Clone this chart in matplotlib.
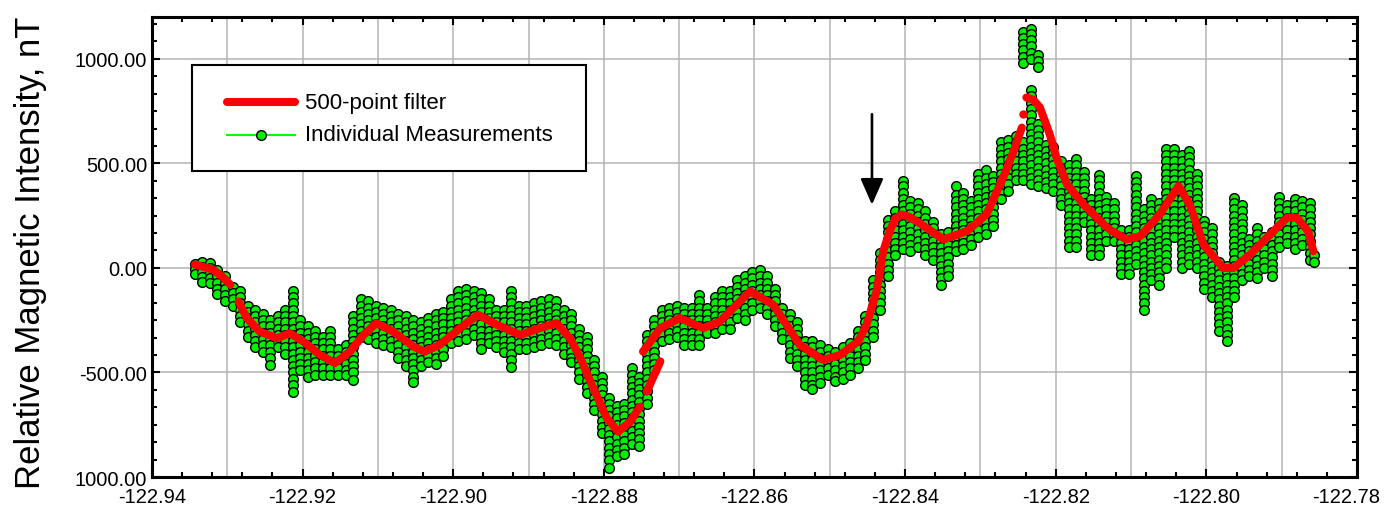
import numpy as np
import matplotlib
matplotlib.use("Agg")
import matplotlib.pyplot as plt
from matplotlib.lines import Line2D
from matplotlib.ticker import MultipleLocator
from matplotlib.transforms import ScaledTranslation

plt.rcParams['font.family'] = ['Liberation Sans', 'DejaVu Sans']

# ---- 500-point filtered trace (the filter restarts a few times, so it comes in pieces)
filt_lon_1 = [-122.9343, -122.9331, -122.9319, -122.9307, -122.9296]
filt_val_1 = [16, 4, -8, -40, -80]

filt_lon_2 = [-122.9285, -122.9274, -122.9257, -122.9234, -122.9217, -122.9199, -122.9177,
              -122.9157, -122.9137, -122.9119, -122.9102, -122.9080, -122.9053, -122.9038,
              -122.9018, -122.8991, -122.8967, -122.8942, -122.8911, -122.8885, -122.8863,
              -122.8845, -122.8832, -122.8814, -122.8796, -122.8781, -122.8765, -122.8752]
filt_val_2 = [-160, -240, -304, -336, -312, -352, -416,
              -455, -400, -320, -264, -304, -376, -400,
              -368, -288, -224, -272, -320, -288, -264,
              -336, -425, -575, -719, -783, -735, -663]

filt_lon_3 = [-122.8743, -122.8725]
filt_val_3 = [-591, -447]

filt_lon_4 = [-122.8748, -122.8725, -122.8699, -122.8668, -122.8646, -122.8606, -122.8575,
              -122.8540, -122.8509, -122.8486, -122.8462, -122.8451, -122.8438, -122.8429,
              -122.8420, -122.8413, -122.8405, -122.8395, -122.8385, -122.8349, -122.8318,
              -122.8292, -122.8270, -122.8256, -122.8245]
filt_val_4 = [-400, -288, -240, -288, -256, -112, -176,
              -368, -440, -416, -350, -270, -112, 80,
              180, 235, 256, 245, 224, 136, 176,
              256, 431, 559, 671]

filt_dot_lon = [-122.8243]
filt_dot_val = [735]

filt_lon_5 = [-122.8239, -122.8230, -122.8221, -122.8208, -122.8199, -122.8185, -122.8163,
              -122.8141, -122.8128, -122.8106, -122.8088, -122.8062, -122.8037, -122.8022,
              -122.8004, -122.7978, -122.7964, -122.7942, -122.7902, -122.7893, -122.7880,
              -122.7865, -122.7858]
filt_val_5 = [815, 805, 767, 639, 527, 399, 303,
              224, 182, 136, 152, 256, 392, 303,
              112, 0, 0, 64, 208, 240, 240,
              176, 80]

# ---- individual readings, grouped by longitude
meas_lon = [
    -122.9343, -122.9333, -122.9323, -122.9313, -122.9303, -122.9293, -122.9283, -122.9273, -122.9263, -122.9253,
    -122.9243, -122.9233, -122.9223, -122.9213, -122.9203, -122.9193, -122.9183, -122.9173, -122.9163, -122.9153,
    -122.9143, -122.9133, -122.9123, -122.9113, -122.9103, -122.9093, -122.9083, -122.9073, -122.9063, -122.9053,
    -122.9043, -122.9033, -122.9023, -122.9013, -122.9003, -122.8993, -122.8983, -122.8973, -122.8963, -122.8953,
    -122.8943, -122.8933, -122.8923, -122.8913, -122.8903, -122.8893, -122.8883, -122.8873, -122.8863, -122.8853,
    -122.8843, -122.8833, -122.8823, -122.8813, -122.8803, -122.8793, -122.8783, -122.8773, -122.8763, -122.8753,
    -122.8743, -122.8733, -122.8723, -122.8713, -122.8703, -122.8693, -122.8683, -122.8673, -122.8663, -122.8653,
    -122.8643, -122.8633, -122.8623, -122.8613, -122.8603, -122.8593, -122.8583, -122.8573, -122.8563, -122.8553,
    -122.8543, -122.8533, -122.8523, -122.8513, -122.8503, -122.8493, -122.8483, -122.8473, -122.8463, -122.8453,
    -122.8443, -122.8433, -122.8423, -122.8413, -122.8403, -122.8393, -122.8383, -122.8373, -122.8363, -122.8353,
    -122.8343, -122.8333, -122.8323, -122.8313, -122.8303, -122.8293, -122.8283, -122.8273, -122.8263, -122.8253,
    -122.8243, -122.8233, -122.8223, -122.8213, -122.8203, -122.8193, -122.8183, -122.8173, -122.8163, -122.8153,
    -122.8143, -122.8133, -122.8123, -122.8113, -122.8103, -122.8093, -122.8083, -122.8073, -122.8063, -122.8053,
    -122.8043, -122.8033, -122.8023, -122.8013, -122.8003, -122.7993, -122.7983, -122.7973, -122.7963, -122.7953,
    -122.7943, -122.7933, -122.7923, -122.7913, -122.7903, -122.7893, -122.7883, -122.7873, -122.7863, -122.7857,
]
meas_val = [
    [20, -5, -30],
    [30, 5, -20, -45, -65],
    [25, 0, -25, -50, -70],
    [-10, -40, -70, -100, -125],
    [-40, -70, -100, -130, -160],
    [-90, -120, -150, -180],
    [-110, -140, -170, -200, -230, -260],
    [-180, -210, -240, -270, -300, -330],
    [-200, -230, -260, -290, -320, -350, -380],
    [-220, -250, -280, -310, -340, -370, -400],
    [-250, -280, -310, -340, -370, -400, -430, -465],
    [-230, -260, -290, -320, -350, -380],
    [-200, -230, -260, -290, -320, -350, -380, -410],
    [-110, -140, -170, -200, -230, -260, -290, -320, -350, -380, -410, -440, -470, -500, -530, -560, -595],
    [-250, -280, -310, -340, -370, -400, -430, -460, -490],
    [-280, -310, -340, -370, -400, -430, -460, -490, -520],
    [-300, -330, -360, -390, -420, -450, -480, -510],
    [-330, -360, -390, -420, -450, -480, -510],
    [-300, -330, -360, -390, -420, -450, -480, -510],
    [-390, -420, -450, -480, -510],
    [-370, -400, -430, -460, -490, -510],
    [-230, -260, -290, -320, -350, -380, -410, -440, -470, -500, -535],
    [-150, -180, -210, -240, -270, -300, -330],
    [-160, -190, -220, -250, -280, -310, -340],
    [-180, -210, -240, -270, -300, -330, -360],
    [-190, -220, -250, -280, -310, -340, -370],
    [-200, -230, -260, -290, -320, -350, -380],
    [-220, -250, -280, -310, -340, -370, -400, -430],
    [-230, -260, -290, -320, -350, -380, -410, -440, -470],
    [-250, -280, -310, -340, -370, -400, -430, -460, -490, -520, -545],
    [-260, -290, -320, -350, -380, -410, -440, -470],
    [-240, -270, -300, -330, -360, -390, -420, -450],
    [-220, -250, -280, -310, -340, -370, -400, -430, -460],
    [-210, -240, -270, -300, -330, -360, -390, -420],
    [-150, -180, -210, -240, -270, -300, -330, -360],
    [-110, -140, -170, -200, -230, -260, -290, -320, -350],
    [-100, -130, -160, -190, -220, -250, -280, -310, -340],
    [-110, -140, -170, -200, -230, -260, -290, -320],
    [-120, -150, -180, -210, -240, -270, -300, -330, -360, -390],
    [-150, -180, -210, -240, -270, -300, -330, -360],
    [-200, -230, -260, -290, -320, -350, -380],
    [-200, -230, -260, -290, -320, -350, -380, -400],
    [-110, -140, -170, -200, -230, -260, -290, -320, -350, -380, -410, -440, -475],
    [-180, -210, -240, -270, -300, -330, -360, -390],
    [-180, -210, -240, -270, -300, -330, -360, -390],
    [-170, -200, -230, -260, -290, -320, -350, -380],
    [-160, -190, -220, -250, -280, -310, -340, -370],
    [-150, -180, -210, -240, -270, -300, -330, -360],
    [-160, -190, -220, -250, -280, -310, -340, -370],
    [-200, -230, -260, -290, -320, -350, -380, -410],
    [-220, -250, -280, -310, -340, -370, -400, -430, -450],
    [-290, -320, -350, -380, -410, -440, -470, -500, -530],
    [-330, -360, -390, -420, -450, -480, -510, -540, -570, -600],
    [-440, -470, -500, -530, -560, -590, -620, -650, -680],
    [-520, -550, -580, -610, -640, -670, -700, -730, -760, -790],
    [-620, -650, -680, -710, -740, -770, -800, -830, -860, -890, -920, -955],
    [-660, -690, -720, -750, -780, -810, -840, -870, -900],
    [-650, -680, -710, -740, -770, -800, -830, -860, -890],
    [-480, -510, -540, -570, -600, -630, -660, -690, -720, -750, -780, -810, -840],
    [-520, -550, -580, -610, -640, -670, -700, -730, -760, -790, -820, -850],
    [-320, -350, -380, -410, -440, -470, -500, -530, -560, -590, -620, -650],
    [-250, -280, -310, -340, -370, -400, -430, -460, -490],
    [-200, -230, -260, -290, -320, -350],
    [-190, -220, -250, -280, -310, -340],
    [-180, -210, -240, -270, -300, -330],
    [-190, -220, -250, -280, -310, -340, -370],
    [-190, -220, -250, -280, -310, -340, -370],
    [-130, -160, -190, -220, -250, -280, -310, -340, -370],
    [-190, -220, -250, -280, -310],
    [-140, -170, -200, -230, -260, -290, -310],
    [-110, -140, -170, -200, -230, -260, -290],
    [-110, -140, -170, -200, -230, -260, -290],
    [-60, -90, -120, -150, -180, -210, -240],
    [-40, -70, -100, -130, -160, -190, -220, -250],
    [-20, -50, -80, -110, -140, -170, -200],
    [-10, -40, -70, -100, -130, -160, -190],
    [-40, -70, -100, -130, -160, -190, -220],
    [-100, -130, -160, -190, -220, -250, -280],
    [-190, -220, -250, -280, -310, -340],
    [-220, -250, -280, -310, -340, -370, -400, -430],
    [-260, -290, -320, -350, -380, -410, -440, -470],
    [-350, -380, -410, -440, -470, -500, -530, -560],
    [-350, -380, -410, -440, -470, -500, -530, -560, -580],
    [-370, -400, -430, -460, -490, -520, -550],
    [-390, -420, -450, -480, -510],
    [-400, -430, -460, -490, -520, -540],
    [-380, -410, -440, -470, -500, -530],
    [-360, -390, -420, -450, -480, -510],
    [-300, -330, -360, -390, -420, -450, -480],
    [-230, -260, -290, -320, -350, -380, -410, -440],
    [-60, -90, -120, -150, -180, -210, -240, -270, -300, -330],
    [70, 40, 10, -20, -50, -80, -110, -140, -170, -200],
    [230, 200, 170, 140, 110, 80, 50, 20, -10, -40],
    [270, 240, 210, 180, 150, 120, 90, 60],
    [415, 390, 360, 330, 300, 270, 240, 210, 180, 150, 120, 90],
    [320, 290, 260, 230, 200, 170, 140, 110, 80],
    [310, 280, 250, 220, 190, 160, 130, 100],
    [270, 240, 210, 180, 150, 120, 90, 60],
    [220, 190, 160, 130, 100, 70, 40],
    [160, 130, 100, 70, 40, 10, -20, -50, -80],
    [170, 140, 110, 80, 50, 20, -10, -40],
    [390, 350, 320, 290, 260, 230, 200, 170, 140, 110, 80],
    [360, 330, 300, 270, 240, 210, 180, 150, 120, 90],
    [320, 290, 260, 230, 200, 170, 140, 110],
    [450, 420, 390, 360, 330, 300, 270, 240, 210, 180, 150],
    [470, 430, 400, 370, 340, 310, 280, 250, 220, 190, 160],
    [440, 410, 380, 350, 320, 290, 260, 230, 200],
    [600, 570, 540, 510, 480, 450, 420, 390, 360, 330],
    [610, 580, 550, 520, 490, 460, 430, 400, 370],
    [630, 600, 570, 540, 510, 480, 450, 420],
    [1130, 1100, 1070, 1040, 1010, 980, 600, 570, 540, 510, 480, 450, 420],
    [1145, 1120, 1090, 1060, 1030, 1000, 850, 820, 790, 760, 730, 700, 670, 640, 610, 580, 550, 520, 490, 460, 430, 400],
    [1020, 990, 960, 690, 660, 630, 600, 570, 540, 510, 480, 450, 420, 390],
    [590, 560, 530, 500, 470, 440, 410, 380],
    [580, 550, 520, 490, 460, 430, 400, 370],
    [510, 480, 450, 420, 390, 360, 330, 300],
    [490, 460, 430, 400, 370, 340, 310, 280, 250, 220, 190, 160, 130, 100],
    [520, 490, 460, 430, 400, 370, 340, 310, 280, 250, 220, 190, 160, 130, 100],
    [460, 430, 400, 370, 340, 310, 280, 250, 220],
    [330, 300, 270, 240, 210, 180, 150, 120, 90, 60],
    [445, 420, 390, 360, 330, 300, 270, 240, 210, 180, 150, 120, 90, 60],
    [340, 310, 280, 250, 220, 190, 160, 130],
    [310, 280, 250, 220, 190, 160, 130],
    [180, 150, 120, 90, 60, 30, 0, -30],
    [180, 150, 120, 90, 60, 30, 0, -30],
    [440, 410, 380, 350, 320, 290, 260, 230, 200, 170, 140, 110, 80, 50, 20],
    [280, 250, 220, 190, 160, 130, 100, 70, 40, 10, -20, -50, -80, -110, -140, -170, -200],
    [330, 300, 270, 240, 210, 180, 150, 120, 90, 60, 30, 0, -30, -60],
    [310, 280, 250, 220, 190, 160, 130, 100, 70, 40, 10, -20, -50, -80],
    [570, 540, 510, 480, 450, 420, 390, 360, 330, 300, 270, 240, 210, 180, 150, 120, 90, 60, 30, 0],
    [570, 540, 510, 480, 450, 420, 390, 360, 330, 300, 270, 240, 210, 180, 150],
    [540, 510, 480, 450, 420, 390, 360, 330, 300, 270, 240, 210, 180, 150, 120, 90, 60, 30, 0],
    [560, 530, 500, 470, 440, 410, 380, 350, 320, 290, 260, 230, 200, 170, 140, 110, 80, 50, 20],
    [450, 420, 390, 360, 330, 300, 270, 240, 210, 180, 150, 120, 90, 60, 30, 0],
    [225, 200, 170, 140, 110, 80, 50, 20, -10, -40, -70, -100],
    [190, 160, 130, 100, 70, 40, 10, -20, -50, -80, -110, -140],
    [30, 0, -30, -60, -90, -120, -150, -180, -210, -240, -270, -300],
    [10, -20, -50, -80, -110, -140, -170, -200, -230, -260, -290, -320, -350],
    [335, 310, 280, 250, 220, 190, 160, 130, 100, 70, 40, 10, -20, -50, -80, -110, -140],
    [300, 270, 240, 210, 180, 150, 120, 90, 60, 30, 0, -30, -60],
    [140, 110, 80, 50, 20, -10, -40],
    [190, 160, 130, 100, 70, 40, 10, -20, -50],
    [150, 120, 90, 60, 30, 0],
    [170, 140, 110, 80, 50, 20, -10, -40],
    [340, 310, 280, 250, 220, 190, 160, 130, 100],
    [300, 270, 240, 210, 180, 150, 120],
    [330, 300, 270, 240, 210, 180, 150, 120, 90],
    [320, 290, 260, 230, 200, 170, 140, 110],
    [310, 280, 250, 220, 190, 160, 130, 100, 70, 40],
    [60, 30],
]

# ---- axis ticks
xtick_vals = [-122.94, -122.92, -122.90, -122.88, -122.86, -122.84, -122.82, -122.80, -122.78]
ytick_vals = [-1000, -500, 0, 500, 1000]
ytick_text = ["1000.00", "-500.00", "0.00", "500.00", "1000.00"]

arrow_lon = -122.8444
arrow_top, arrow_tip = 735, 302

green = '#00ee00'

fig = plt.figure(figsize=(13.85, 5.10), dpi=100)
ax = fig.add_axes([0.1097, 0.0627, 0.8701, 0.9020])
ax.set_xlim(-122.94, -122.78)
ax.set_ylim(-1000, 1200)

# light grid every 0.01 deg and every 500 nT
ax.vlines(np.arange(-122.93, -122.785, 0.01), -1000, 1200, color='#b4b4b4', lw=1.1, zorder=0)
ax.hlines([-500, 0, 500, 1000], -122.94, -122.78, color='#b4b4b4', lw=1.1, zorder=0)

# readings
mx = [lon for lon, vals in zip(meas_lon, meas_val) for _ in vals]
my = [v for vals in meas_val for v in vals]
ax.plot(mx, my, linestyle='none', marker='o', ms=7.0, mfc=green, mec='black', mew=1.0, zorder=2)

# filtered trace
for lon, val in [(filt_lon_1, filt_val_1), (filt_lon_2, filt_val_2), (filt_lon_3, filt_val_3),
                 (filt_lon_4, filt_val_4), (filt_lon_5, filt_val_5)]:
    ax.plot(lon, val, color='red', lw=5.8, solid_capstyle='round', solid_joinstyle='round', zorder=3)
ax.plot(filt_dot_lon, filt_dot_val, 'o', color='red', ms=6, mec='none', zorder=3)

# arrow marking the onset
ax.annotate('', xy=(arrow_lon, arrow_tip), xytext=(arrow_lon, arrow_top),
            arrowprops=dict(arrowstyle='-|>,head_length=0.8,head_width=0.35', color='black',
                            lw=1.9, mutation_scale=20, shrinkA=0, shrinkB=0), zorder=4)

# ticks
ax.set_xticks(xtick_vals)
ax.set_xticklabels(['%.2f' % v for v in xtick_vals])
ax.set_yticks(ytick_vals)
ax.set_yticklabels(ytick_text)
ax.xaxis.set_minor_locator(MultipleLocator(0.004))
ax.yaxis.set_minor_locator(MultipleLocator(500 / 6))
ax.tick_params(which='both', direction='in', top=True, right=True, width=1.5, labelsize=14.5)
ax.tick_params(which='major', length=6)
ax.tick_params(which='minor', length=3.6)
ax.tick_params(axis='x', pad=7.5)
ax.tick_params(axis='y', pad=3.5)
for s in ax.spines.values():
    s.set_linewidth(2.2)

# last x label sits against the figure edge, nudge it in
last = ax.get_xticklabels()[-1]
last.set_transform(last.get_transform() + ScaledTranslation(-0.11, 0, fig.dpi_scale_trans))

ax.set_ylabel('Relative Magnetic Intensity, nT', fontsize=25)
ax.yaxis.set_label_coords(-0.0871, 0.49)

# legend box
ax.add_patch(plt.Rectangle((0.0332, 0.6652), 0.327, 0.2304, transform=ax.transAxes,
                           facecolor='white', edgecolor='black', lw=1.5, zorder=5))
ax.add_line(Line2D([0.0622, 0.1187], [0.8152, 0.8152], transform=ax.transAxes, color='red',
                   lw=5.8, solid_capstyle='round', zorder=6))
ax.add_line(Line2D([0.0622, 0.1187], [0.7435, 0.7435], transform=ax.transAxes, color='#00ff00',
                   lw=1.5, zorder=6))
ax.add_line(Line2D([0.0905], [0.7435], transform=ax.transAxes, linestyle='none', marker='o',
                   ms=7.0, mfc=green, mec='black', mew=1.0, zorder=7))
ax.text(0.127, 0.8152, '500-point filter', transform=ax.transAxes, fontsize=16, va='center', zorder=7)
ax.text(0.127, 0.7435, 'Individual Measurements', transform=ax.transAxes, fontsize=16, va='center', zorder=7)

fig.savefig('out.png', dpi=100)
